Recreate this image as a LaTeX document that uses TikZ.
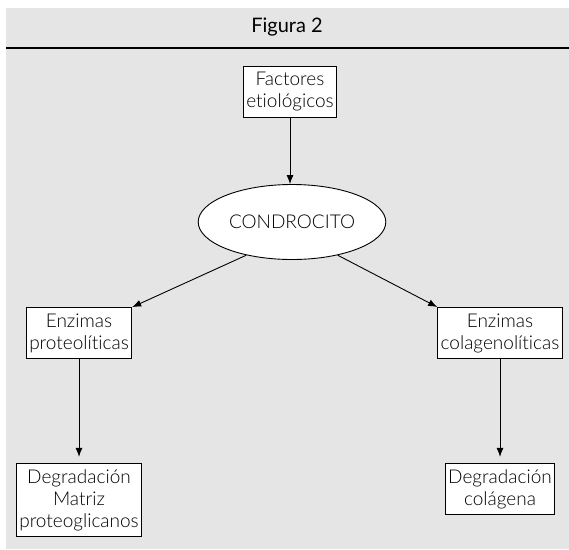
\documentclass[tikz,border=0pt]{standalone}
\usepackage{fontspec}
\setmainfont{Lato Light}[Ligatures=NoCommon]
\newfontfamily\titulofont{Lato}
\usetikzlibrary{arrows.meta,shapes.geometric}
\tikzset{caja/.style={draw, fill=white, align=center, inner xsep=3pt, inner ysep=6pt, font=\fontsize{19}{22}\selectfont},
  flecha/.style={-{Latex[length=9pt,width=7pt]}}}
\begin{document}
\begin{tikzpicture}[x=1pt, y=-1pt, line width=0.9pt]
\useasboundingbox (0,0) rectangle (569,549);
\fill[gray!20] (6,8) rectangle (569,549);
\draw[line width=2.5pt] (6,48) -- (569,48);
\node[font=\titulofont\fontsize{20}{22}\selectfont] (titulo) at (287,27) {Figura 2};
\node[caja] (fact) at (290,92) {Factores\\etiológicos};
\node[ellipse, draw, fill=white, minimum width=154pt, minimum height=75pt, font=\fontsize{19}{22}\selectfont] (cond) at (292,222) {CONDROCITO};
\draw[flecha] (fact.south) -- (cond.north -| fact.south);
\node[caja] (enzp) at (79,333) {Enzimas\\proteolíticas};
\draw[flecha] (cond.216) -- (enzp.north east);
\node[caja] (enzc) at (500,333) {Enzimas\\colagenolíticas};
\draw[flecha] (cond.324) -- (enzc.north west);
\node[caja] (degm) at (79,500) {Degradación\\Matriz\\proteoglicanos};
\draw[flecha, shorten >=6pt] (enzp.south) -- (degm.north);
\node[caja] (degc) at (500,489) {Degradación\\colágena};
\draw[flecha, shorten >=6pt] (enzc.south) -- (degc.north);
\end{tikzpicture}
\end{document}
